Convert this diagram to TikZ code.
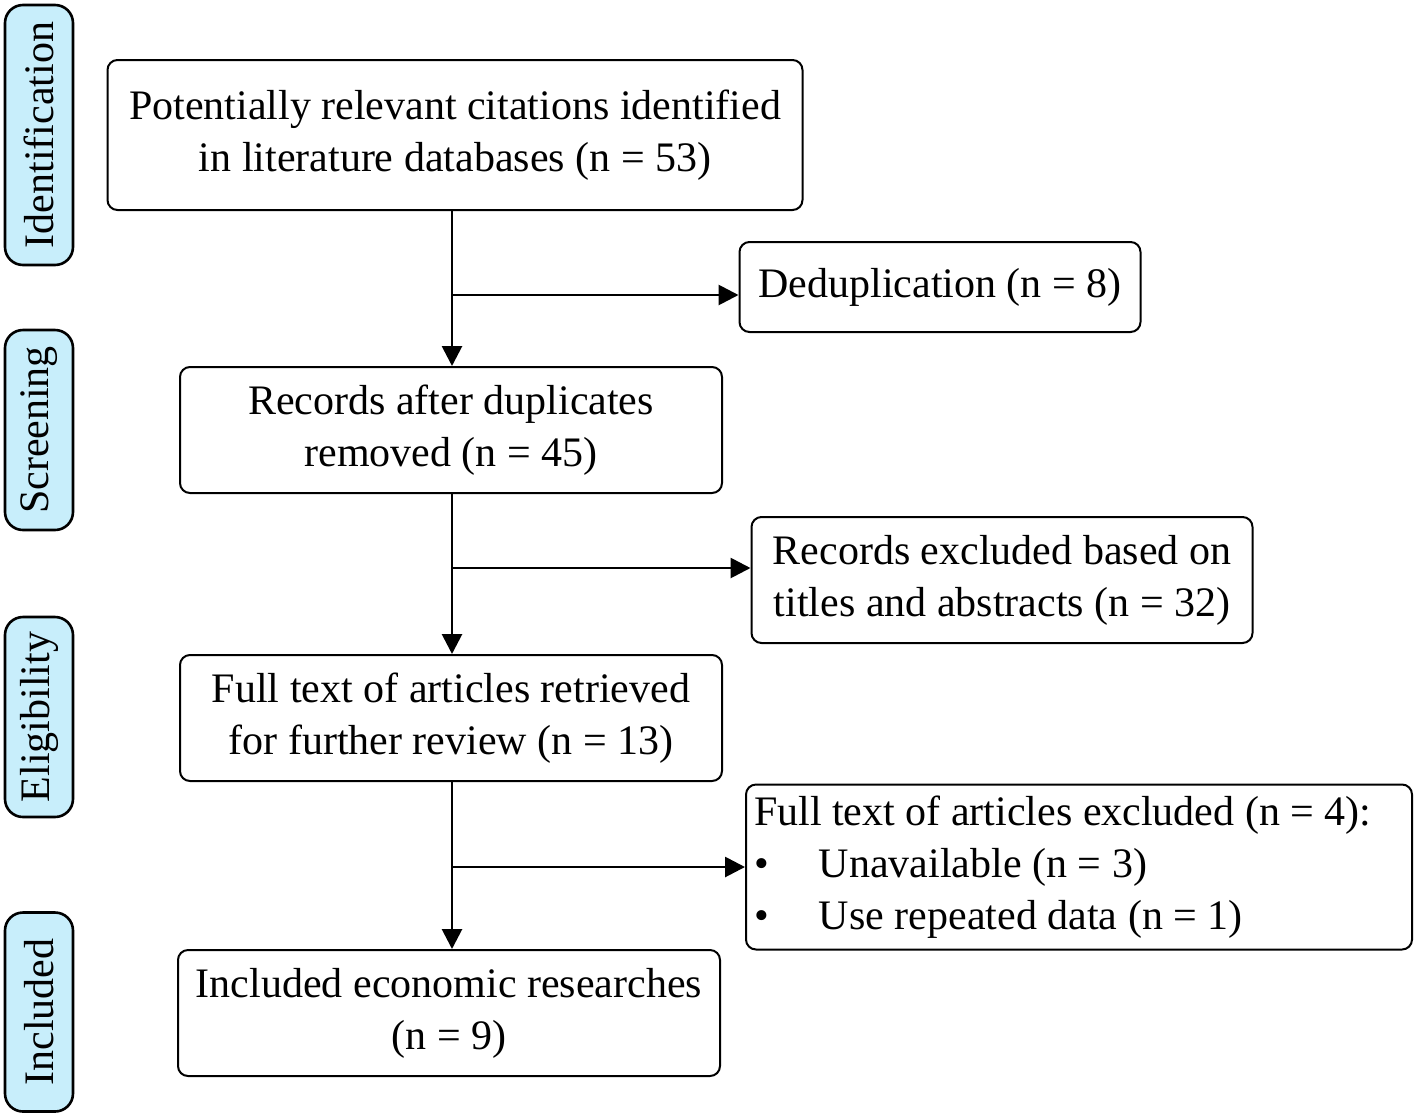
\documentclass[tikz,border=0pt]{standalone}
\usepackage{fontspec}
\setmainfont{Liberation Serif}
\usepackage{tikz}
\usetikzlibrary{arrows, arrows.meta}
\definecolor{phaseblue}{RGB}{200,238,251}

\begin{document}
\begin{tikzpicture}[x=0.5pt, y=-0.5pt]
\tikzstyle{stage}=[draw, line width=1pt, rounded corners=5pt, align=center, font=\fontsize{21}{26}\selectfont, inner sep=4pt]
\tikzstyle{phase}=[draw, line width=1.3pt, fill=phaseblue, rounded corners=9pt, rotate=90, minimum height=34pt, inner sep=0pt, font=\fontsize{21}{26}\selectfont]
\tikzstyle{arr}=[line width=1.4pt, -{Triangle[length=10pt, width=10pt]}]
\useasboundingbox (0,0) rectangle (1416,1119);

% phases
\node[phase, minimum width=130pt] (pid) at (39,135) {Identification};
\node[phase, minimum width=100pt] (psc) at (39,430) {Screening};
\node[phase, minimum width=100pt] (pel) at (39,717) {Eligibility};
\node[phase, minimum width=99.5pt] (pin) at (39,1012) {Included};

% main boxes
\node[stage, minimum width=347.5pt, minimum height=75pt] (cit) at (455,135) {Potentially relevant citations identified\\in literature databases (n = 53)};
\node[stage, minimum width=271pt, minimum height=63pt] (rec) at (451,430) {Records after duplicates\\removed (n = 45)};
\node[stage, minimum width=271pt, minimum height=63pt] (full) at (451,718) {Full text of articles retrieved\\for further review (n = 13)};
\node[stage, minimum width=271pt, minimum height=63pt] (incl) at (449,1013) {Included economic researches\\(n = 9)};

% exclusions
\node[stage, minimum width=200.5pt, minimum height=45pt] (dedup) at (940,287) {Deduplication (n = 8)};
\node[stage, minimum width=250.5pt, minimum height=63pt] (exa) at (1002,580) {Records excluded based on\\titles and abstracts (n = 32)};
\node[stage, align=flush left, text width=325pt, inner xsep=4pt, minimum height=82.5pt] (exb) at (1079,867) {Full text of articles excluded (n = 4):\\\makebox[32.5pt][l]{\textbullet}Unavailable (n = 3)\\\makebox[32.5pt][l]{\textbullet}Use repeated data (n = 1)};

\coordinate (j1) at (452,295);
\coordinate (j2) at (452,568);
\coordinate (j3) at (452,867);

\draw[arr] (j1 |- cit.south) -- (j1 |- rec.north);
\draw[arr] (j2 |- rec.south) -- (j2 |- full.north);
\draw[arr] (j3 |- full.south) -- (j3 |- incl.north);

\path[arr]
(j1) edge (j1 -| dedup.west)
(j2) edge (j2 -| exa.west)
(j3) edge (j3 -| exb.west);

\end{tikzpicture}
\end{document}
